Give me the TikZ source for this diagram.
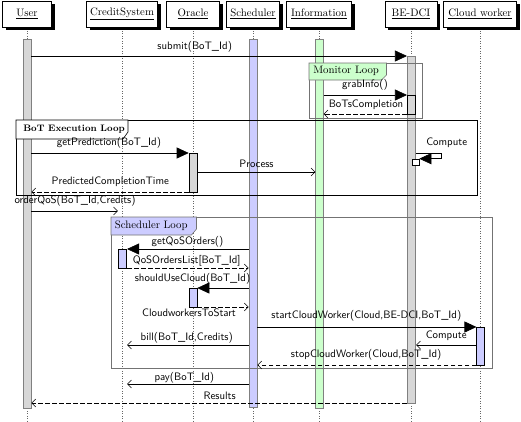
\documentclass[tikz,border=0pt]{standalone}
\usetikzlibrary{arrows.meta,shadows}
\definecolor{barblue}{RGB}{204,204,255}
\definecolor{bargreen}{RGB}{204,255,204}
\definecolor{bargray}{RGB}{215,215,215}
\begin{document}
\begin{tikzpicture}[x=1pt,y=-1pt,
  hdr/.style={draw, fill=white, inner sep=0pt, minimum height=26pt,
    font=\fontsize{10.8}{13}\selectfont,
    drop shadow={shadow xshift=3.3pt, shadow yshift=-3.3pt, fill=black, opacity=1}},
  lifeline/.style={black!60, dotted, line width=0.5pt},
  longbar/.style={draw=black!50, inner sep=0pt, minimum width=8pt},
  shortbar/.style={draw=black, inner sep=0pt, minimum width=8pt},
  msglbl/.style={font=\sffamily\fontsize{10.8}{12}\selectfont, inner sep=0pt},
  tablbl/.style={font=\fontsize{10.8}{13}\selectfont, inner sep=0pt, anchor=west},
  sync/.style={-{Triangle[length=12pt,width=11pt]}},
  async/.style={-{Straight Barb[length=4pt,width=8pt]}},
  ret/.style={async, dash pattern=on 4.5pt off 2.5pt},
  line width=0.6pt]
\useasboundingbox (0,0) rectangle (521,421);

% headers
\node[hdr, minimum width=49pt] (user) at (27,14) {\underline{User}};
\node[hdr, minimum width=71pt] (credit) at (122,14) {\underline{CreditSystem}};
\node[hdr, minimum width=53pt] (oracle) at (193,14) {\underline{Oracle}};
\node[hdr, minimum width=53pt] (sched) at (253,14) {\underline{Scheduler}};
\node[hdr, minimum width=65pt] (info) at (319,14) {\underline{Information}};
\node[hdr, minimum width=52pt] (bedci) at (411,14) {\underline{BE-DCI}};
\node[hdr, minimum width=73pt] (cloud) at (480,14) {\underline{Cloud worker}};

% lifelines
\foreach \h in {user,credit,oracle,sched,info,bedci,cloud}
  \draw[lifeline] ([yshift=-3.5pt]\h.south) -- (\h.south |- 0,421);

% long activation bars
\node[longbar, fill=bargray, minimum height=369pt] (ubar) at (27,223.5) {};
\node[longbar, fill=barblue, minimum height=368pt] (sbar) at (253,223) {};
\node[longbar, fill=bargreen, minimum width=7.5pt, minimum height=369pt] (ibar) at (319.5,223.5) {};
\node[longbar, fill=bargray, minimum width=8.5pt, minimum height=347pt] (bbar) at (411.5,229.5) {};

% Monitor loop
\draw[black!55] (309,63) rectangle (422,118);
\draw[black!55, fill=bargreen] (309,63) -- (386.5,63) -- (386.5,75) -- (381.5,80) -- (309,80) -- cycle;
\node[tablbl] (monlbl) at (313,71) {Monitor Loop};

% BoT Execution loop
\draw[black] (16,120) rectangle (477,195);
\draw[black, fill=white] (16,120) -- (128,120) -- (128,132) -- (123,139) -- (16,139) -- cycle;
\node[tablbl, font=\bfseries\fontsize{9.4}{11}\selectfont] (botlbl) at (23,129.5) {BoT Execution Loop};

% Scheduler loop
\draw[black!55] (111,217) rectangle (492,368);
\draw[black!55, fill=barblue] (111,217) -- (196.5,217) -- (196.5,229) -- (191.5,235) -- (111,235) -- cycle;
\node[tablbl] (schlbl) at (114.5,226) {Scheduler Loop};

% short activation bars
\node[shortbar, fill=bargray, minimum width=8.5pt, minimum height=19pt] (bnest) at (411.5,104.5) {};
\node[shortbar, fill=bargray, minimum height=39pt] (obar1) at (193,172.5) {};
\node[shortbar, fill=barblue, minimum width=8.5pt, minimum height=19pt] (cbar) at (122.5,258.5) {};
\node[shortbar, fill=barblue, minimum height=19pt] (obar2) at (193,297.5) {};
\node[shortbar, fill=barblue, minimum width=7.5pt, minimum height=38pt] (wbar) at (480.5,346) {};
\node[shortbar, fill=white, minimum width=7pt, minimum height=6pt] (cbox) at (415.5,162) {};
\coordinate (selfc) at (441,153);

% messages
\draw[sync] (ubar.east |- 0,56) -- (bbar.west |- 0,56);
\node[msglbl] (l1) at (194.7,47) {submit(BoT\_Id)};

\draw[sync] (ibar.east |- 0,95) -- (bnest.west |- 0,95);
\node[msglbl] (l2) at (365,84.5) {grabInfo()};
\draw[ret] (bnest.west |- 0,114) -- (ibar.east |- 0,114);
\node[msglbl] (l3) at (366,104.5) {BoTsCompletion};

\draw[sync] (ubar.east |- 0,153) -- (obar1.west |- 0,153);
\node[msglbl] (l4) at (109,142.5) {getPrediction(BoT\_Id)};
\draw[async] (obar1.east |- 0,172) -- (ibar.west |- 0,172);
\node[msglbl] (l5) at (256.5,164) {Process};
\draw[ret] (obar1.west |- 0,192) -- (ubar.east |- 0,192);
\node[msglbl] (l6) at (110.3,181.7) {PredictedCompletionTime};

\draw[sync] (bbar.east |- selfc) -- (selfc) -- (selfc |- cbox.north) -- (cbox.north east);
\node[msglbl] (l7) at (446.7,143) {Compute};

\draw[async] (ubar.east |- 0,211) -- (cbar.west |- 0,211);
\node[msglbl] (l8) at (75,201) {orderQoS(BoT\_Id,Credits)};

\draw[sync] (sbar.west |- 0,249) -- (cbar.east |- 0,249);
\node[msglbl] (l9) at (187.5,241.5) {getQoSOrders()};
\draw[ret] (cbar.east |- 0,268) -- (sbar.west |- 0,268);
\node[msglbl] (l10) at (186.7,261) {QoSOrdersList[BoT\_Id]};

\draw[sync] (sbar.west |- 0,288) -- (obar2.east |- 0,288);
\node[msglbl] (l11) at (192.5,278.5) {shouldUseCloud(BoT\_Id)};
\draw[ret] (obar2.east |- 0,307) -- (sbar.west |- 0,307);
\node[msglbl] (l12) at (189,312.7) {CloudworkersToStart};

\draw[sync] (sbar.east |- 0,327) -- (wbar.west |- 0,327);
\node[msglbl] (l13) at (366.3,316) {startCloudWorker(Cloud,BE-DCI,BoT\_Id)};
\draw[async] (wbar.west |- 0,345) -- (bbar.east |- 0,345);
\node[msglbl] (l14) at (446.2,336) {Compute};
\draw[ret] (wbar.west |- 0,365) -- (sbar.east |- 0,365);
\node[msglbl] (l15) at (366.2,355) {stopCloudWorker(Cloud,BoT\_Id)};

\draw[async] (sbar.west |- 0,345) -- (cbar.east |- 0,345);
\node[msglbl] (l16) at (186.7,337.3) {bill(BoT\_Id,Credits)};
\draw[async] (sbar.west |- 0,384) -- (cbar.east |- 0,384);
\node[msglbl] (l17) at (184.3,377.3) {pay(BoT\_Id)};
\draw[ret] (bbar.west |- 0,403) -- (ubar.east |- 0,403);
\node[msglbl] (l18) at (219.7,396) {Results};
\end{tikzpicture}
\end{document}
